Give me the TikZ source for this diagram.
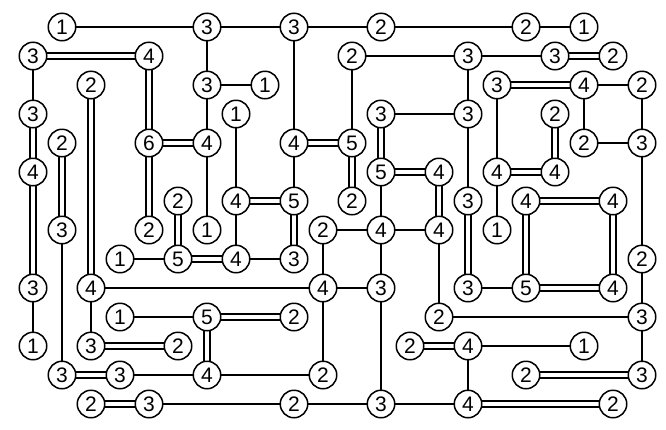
\documentclass[tikz,border=0pt]{standalone}
\usepackage{fontspec}
\setmainfont{Liberation Sans}
\usepackage{tikz}
\usetikzlibrary{backgrounds}

\begin{document}
\begin{tikzpicture}[x=29pt, y=-29pt,
  isle/.style={circle, draw, fill=white, line width=1.5pt, minimum size=27.5pt, inner sep=0pt,
    font=\fontsize{21}{21}\selectfont},
  bridge/.style={line width=1.8pt},
  dbridge/.style={line width=1.8pt, double, double distance=4.4pt}]
  \useasboundingbox (-33pt,27pt) rectangle (633pt,-402pt);
  % row 0
  \node[isle] (r0c1) at (1,0) {1};   \node[isle] (r0c6) at (6,0) {3};   \node[isle] (r0c9) at (9,0) {3};
  \node[isle] (r0c12) at (12,0) {2}; \node[isle] (r0c17) at (17,0) {2}; \node[isle] (r0c19) at (19,0) {1};
  % row 1
  \node[isle] (r1c0) at (0,1) {3};   \node[isle] (r1c4) at (4,1) {4};   \node[isle] (r1c11) at (11,1) {2};
  \node[isle] (r1c15) at (15,1) {3}; \node[isle] (r1c18) at (18,1) {3}; \node[isle] (r1c20) at (20,1) {2};
  % row 2
  \node[isle] (r2c2) at (2,2) {2};   \node[isle] (r2c6) at (6,2) {3};   \node[isle] (r2c8) at (8,2) {1};
  \node[isle] (r2c16) at (16,2) {3}; \node[isle] (r2c19) at (19,2) {4}; \node[isle] (r2c21) at (21,2) {2};
  % row 3
  \node[isle] (r3c0) at (0,3) {3};   \node[isle] (r3c7) at (7,3) {1};   \node[isle] (r3c12) at (12,3) {3};
  \node[isle] (r3c15) at (15,3) {3}; \node[isle] (r3c18) at (18,3) {2};
  % row 4
  \node[isle] (r4c1) at (1,4) {2};   \node[isle] (r4c4) at (4,4) {6};   \node[isle] (r4c6) at (6,4) {4};
  \node[isle] (r4c9) at (9,4) {4};   \node[isle] (r4c11) at (11,4) {5}; \node[isle] (r4c19) at (19,4) {2};
  \node[isle] (r4c21) at (21,4) {3};
  % row 5
  \node[isle] (r5c0) at (0,5) {4};   \node[isle] (r5c12) at (12,5) {5}; \node[isle] (r5c14) at (14,5) {4};
  \node[isle] (r5c16) at (16,5) {4}; \node[isle] (r5c18) at (18,5) {4};
  % row 6
  \node[isle] (r6c5) at (5,6) {2};   \node[isle] (r6c7) at (7,6) {4};   \node[isle] (r6c9) at (9,6) {5};
  \node[isle] (r6c11) at (11,6) {2}; \node[isle] (r6c15) at (15,6) {3}; \node[isle] (r6c17) at (17,6) {4};
  \node[isle] (r6c20) at (20,6) {4};
  % row 7
  \node[isle] (r7c1) at (1,7) {3};   \node[isle] (r7c4) at (4,7) {2};   \node[isle] (r7c6) at (6,7) {1};
  \node[isle] (r7c10) at (10,7) {2}; \node[isle] (r7c12) at (12,7) {4}; \node[isle] (r7c14) at (14,7) {4};
  \node[isle] (r7c16) at (16,7) {1};
  % row 8
  \node[isle] (r8c3) at (3,8) {1};   \node[isle] (r8c5) at (5,8) {5};   \node[isle] (r8c7) at (7,8) {4};
  \node[isle] (r8c9) at (9,8) {3};   \node[isle] (r8c21) at (21,8) {2};
  % row 9
  \node[isle] (r9c0) at (0,9) {3};   \node[isle] (r9c2) at (2,9) {4};   \node[isle] (r9c10) at (10,9) {4};
  \node[isle] (r9c12) at (12,9) {3}; \node[isle] (r9c15) at (15,9) {3}; \node[isle] (r9c17) at (17,9) {5};
  \node[isle] (r9c20) at (20,9) {4};
  % row 10
  \node[isle] (r10c3) at (3,10) {1};  \node[isle] (r10c6) at (6,10) {5};  \node[isle] (r10c9) at (9,10) {2};
  \node[isle] (r10c14) at (14,10) {2}; \node[isle] (r10c21) at (21,10) {3};
  % row 11
  \node[isle] (r11c0) at (0,11) {1};  \node[isle] (r11c2) at (2,11) {3};  \node[isle] (r11c5) at (5,11) {2};
  \node[isle] (r11c13) at (13,11) {2}; \node[isle] (r11c15) at (15,11) {4}; \node[isle] (r11c19) at (19,11) {1};
  % row 12
  \node[isle] (r12c1) at (1,12) {3};  \node[isle] (r12c3) at (3,12) {3};  \node[isle] (r12c6) at (6,12) {4};
  \node[isle] (r12c10) at (10,12) {2}; \node[isle] (r12c17) at (17,12) {2}; \node[isle] (r12c21) at (21,12) {3};
  % row 13
  \node[isle] (r13c2) at (2,13) {2};  \node[isle] (r13c4) at (4,13) {3};  \node[isle] (r13c9) at (9,13) {2};
  \node[isle] (r13c12) at (12,13) {3}; \node[isle] (r13c15) at (15,13) {4}; \node[isle] (r13c20) at (20,13) {2};

  \begin{scope}[on background layer]
    % single bridges, across
    \draw[bridge] (r0c1.center)--(r0c6.center) (r0c6.center)--(r0c9.center) (r0c9.center)--(r0c12.center)
      (r0c12.center)--(r0c17.center) (r0c17.center)--(r0c19.center)
      (r1c11.center)--(r1c15.center) (r1c15.center)--(r1c18.center)
      (r2c6.center)--(r2c8.center) (r2c19.center)--(r2c21.center)
      (r3c12.center)--(r3c15.center) (r4c19.center)--(r4c21.center)
      (r7c10.center)--(r7c12.center) (r7c12.center)--(r7c14.center)
      (r8c3.center)--(r8c5.center) (r8c7.center)--(r8c9.center)
      (r9c2.center)--(r9c10.center) (r9c10.center)--(r9c12.center) (r9c15.center)--(r9c17.center)
      (r10c3.center)--(r10c6.center) (r10c14.center)--(r10c21.center)
      (r11c15.center)--(r11c19.center)
      (r12c3.center)--(r12c6.center) (r12c6.center)--(r12c10.center)
      (r13c4.center)--(r13c9.center) (r13c9.center)--(r13c12.center) (r13c12.center)--(r13c15.center);
    % single bridges, down
    \draw[bridge] (r1c0.center)--(r3c0.center) (r9c0.center)--(r11c0.center)
      (r7c1.center)--(r12c1.center) (r9c2.center)--(r11c2.center)
      (r0c6.center)--(r2c6.center) (r2c6.center)--(r4c6.center) (r4c6.center)--(r7c6.center)
      (r3c7.center)--(r6c7.center) (r6c7.center)--(r8c7.center)
      (r0c9.center)--(r4c9.center) (r4c9.center)--(r6c9.center)
      (r7c10.center)--(r9c10.center) (r9c10.center)--(r12c10.center)
      (r1c11.center)--(r4c11.center)
      (r5c12.center)--(r7c12.center) (r7c12.center)--(r9c12.center) (r9c12.center)--(r13c12.center)
      (r7c14.center)--(r10c14.center)
      (r1c15.center)--(r3c15.center) (r3c15.center)--(r6c15.center) (r11c15.center)--(r13c15.center)
      (r2c16.center)--(r5c16.center) (r5c16.center)--(r7c16.center)
      (r2c19.center)--(r4c19.center)
      (r2c21.center)--(r4c21.center) (r4c21.center)--(r8c21.center) (r8c21.center)--(r10c21.center)
      (r10c21.center)--(r12c21.center);
    % double bridges, across
    \draw[dbridge] (r1c0.center)--(r1c4.center) (r1c18.center)--(r1c20.center) (r2c16.center)--(r2c19.center)
      (r4c4.center)--(r4c6.center) (r4c9.center)--(r4c11.center)
      (r5c12.center)--(r5c14.center) (r5c16.center)--(r5c18.center)
      (r6c7.center)--(r6c9.center) (r6c17.center)--(r6c20.center)
      (r8c5.center)--(r8c7.center) (r9c17.center)--(r9c20.center) (r10c6.center)--(r10c9.center)
      (r11c2.center)--(r11c5.center) (r11c13.center)--(r11c15.center)
      (r12c1.center)--(r12c3.center) (r12c17.center)--(r12c21.center)
      (r13c2.center)--(r13c4.center) (r13c15.center)--(r13c20.center);
    % double bridges, down
    \draw[dbridge] (r3c0.center)--(r5c0.center) (r5c0.center)--(r9c0.center) (r4c1.center)--(r7c1.center)
      (r2c2.center)--(r9c2.center) (r1c4.center)--(r4c4.center) (r4c4.center)--(r7c4.center)
      (r6c5.center)--(r8c5.center) (r10c6.center)--(r12c6.center) (r6c9.center)--(r8c9.center)
      (r4c11.center)--(r6c11.center) (r3c12.center)--(r5c12.center) (r5c14.center)--(r7c14.center)
      (r6c15.center)--(r9c15.center) (r6c17.center)--(r9c17.center) (r3c18.center)--(r5c18.center)
      (r6c20.center)--(r9c20.center);
  \end{scope}
\end{tikzpicture}
\end{document}
